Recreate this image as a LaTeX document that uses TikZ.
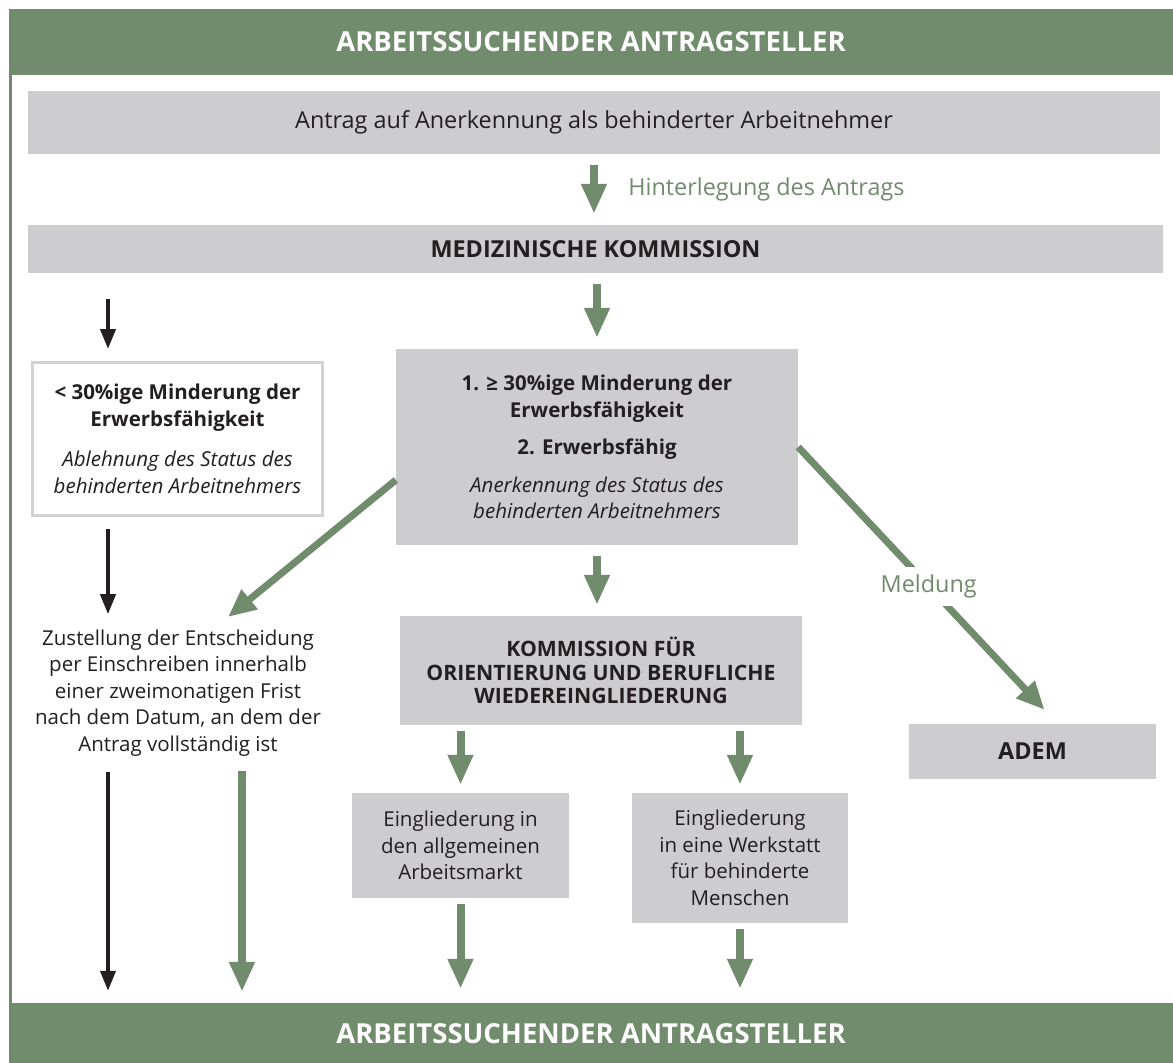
\documentclass[tikz,border=0pt]{standalone}
\usepackage{fontspec}
\setmainfont{Open Sans}
\usetikzlibrary{arrows.meta}
\usetikzlibrary{positioning}

\definecolor{ademgreen}{HTML}{708C6C}
\definecolor{boxgray}{HTML}{CDCDCF}
\definecolor{textdark}{HTML}{231F20}
\definecolor{framegray}{HTML}{D2D2D3}

\newcommand\bodysize{\fontsize{20.5}{26.5}\selectfont}
\newcommand\bigsize{\fontsize{23.4}{30}\selectfont}
\newcommand\bannersize{\fontsize{27.5}{33}\selectfont}

\begin{document}
\begin{tikzpicture}[
    x=1pt, y=-1pt,
    font=\bodysize,
    text=textdark
]
\tikzset{
    banner/.style = {fill=ademgreen, text=white, font=\bannersize\bfseries, minimum width=1164pt, inner sep=0pt},
    graybox/.style = {fill=boxgray, align=center, inner sep=0pt},
    whitebox/.style = {draw=framegray, line width=3pt, fill=white, align=center, inner sep=0pt},
    edgeg/.style = {-{Triangle[length=30pt,width=24pt]}, line width=8pt, draw=ademgreen, shorten <=11pt, shorten >=11pt},
    edgeb/.style = {-{Triangle[length=20pt,width=15pt]}, line width=4pt, draw=textdark, shorten <=12pt, shorten >=12pt},
    edged/.style = {-{Triangle[length=28pt,width=24pt]}, line width=7pt, draw=ademgreen}
}
\useasboundingbox (0,0) rectangle (1173,1063);

% banners and frame
\node[banner, minimum height=66pt] at (591,42) (top) {ARBEITSSUCHENDER ANTRAGSTELLER};
\node[banner, minimum height=62pt] at (591,1034) (bot) {ARBEITSSUCHENDER ANTRAGSTELLER};
\fill[ademgreen] (top.south west) rectangle ([xshift=3pt]bot.north west);

% boxes
\node[graybox, minimum width=1132pt, minimum height=63pt, font=\bigsize] at (594,122.5) (antrag)
    {Antrag auf Anerkennung als behinderter Arbeitnehmer};
\node[graybox, minimum width=1135pt, minimum height=48pt, font=\bigsize\bfseries] at (595.5,249) (medizin)
    {MEDIZINISCHE KOMMISSION};
\node[whitebox, minimum width=290pt, minimum height=153pt] at (177.5,439) (lbox)
    {\textbf{< 30\%ige Minderung der}\\\textbf{Erwerbsfähigkeit}\\[14pt]
     \textit{Ablehnung des Status des}\\\textit{behinderten Arbeitnehmers}};
\node[graybox, minimum width=402pt, minimum height=196pt] at (597,447) (mbox)
    {\textbf{1. ≥ 30\%ige Minderung der}\\\textbf{Erwerbsfähigkeit}\\[11pt]
     \textbf{2. Erwerbsfähig}\\[11pt]
     \textit{Anerkennung des Status des}\\\textit{behinderten Arbeitnehmers}};
\node[align=center] at (178,693) (zust)
    {Zustellung der Entscheidung\\per Einschreiben innerhalb\\einer zweimonatigen Frist\\
     nach dem Datum, an dem der\\Antrag vollständig ist};
\node[graybox, minimum width=402pt, minimum height=109pt, font=\fontsize{21.2}{23.5}\selectfont\bfseries] at (601,670.5) (komm)
    {KOMMISSION FÜR\\ORIENTIERUNG UND BERUFLICHE\\WIEDEREINGLIEDERUNG};
\node[graybox, minimum width=217pt, minimum height=105pt] at (460.5,845.5) (einga)
    {Eingliederung in\\den allgemeinen\\Arbeitsmarkt};
\node[graybox, minimum width=216pt, minimum height=130pt] at (740,858) (eingb)
    {Eingliederung\\in eine Werkstatt\\für behinderte\\Menschen};
\node[graybox, minimum width=247pt, minimum height=55pt, font=\bigsize\bfseries] at (1032.5,751.5) (adem)
    {ADEM};

\coordinate (lcol) at (108,0);
\coordinate (gcol) at (242,0);
\coordinate (dtip) at (228,617);

% connectors
\draw[edgeg] (antrag.south) -- (antrag.south |- medizin.north)
    node[midway, right=27pt, text=ademgreen, font=\bigsize] (hint) {Hinterlegung des Antrags};
\draw[edgeg] (medizin.south -| mbox.north) -- (mbox.north);
\draw[edgeb, shorten <=26pt] (medizin.south -| lcol) -- (lbox.north -| lcol);
\draw[edgeb] (lbox.south -| lcol) -- (zust.north -| lcol);
\draw[edgeb] (zust.south -| lcol) -- (bot.north -| lcol);
\draw[edged] ([yshift=-33pt]mbox.west) -- (dtip);
\draw[edgeg] (zust.south -| gcol) -- (bot.north -| gcol);
\draw[edged] (mbox.east) -- ([xshift=12pt,yshift=14pt]adem.north)
    node[pos=0.53, fill=white, inner sep=8pt, text=ademgreen, font=\bigsize] (meld) {Meldung};
\draw[edgeg] (mbox.south) -- (mbox.south |- komm.north);
\draw[edgeg, shorten <=6pt, shorten >=8pt] (komm.south -| einga) -- (einga.north);
\draw[edgeg, shorten <=6pt, shorten >=8pt] (komm.south -| eingb) -- (eingb.north);
\draw[edgeg, shorten <=6pt, shorten >=14pt] (einga.south) -- (einga.south |- bot.north);
\draw[edgeg, shorten <=6pt, shorten >=14pt] (eingb.south) -- (eingb.south |- bot.north);
\end{tikzpicture}
\end{document}
